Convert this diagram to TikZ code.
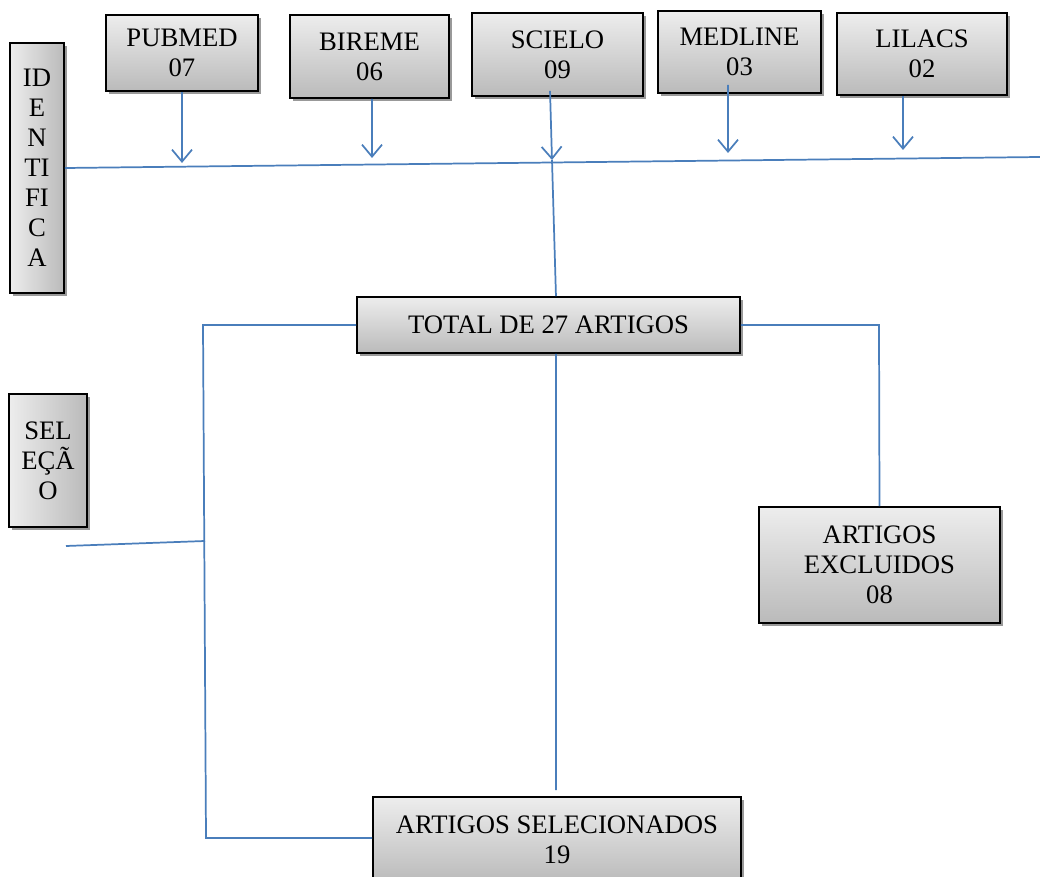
\documentclass[tikz,border=0pt]{standalone}
\usepackage{fontspec}
\setmainfont{Liberation Serif}
\usepackage{tikz}
\usetikzlibrary{arrows.meta,shadows}

\definecolor{linkblue}{RGB}{74,126,187}
\tikzset{
  boxbase/.style={draw=black,line width=1.4pt,
    drop shadow={shadow xshift=2.4pt,shadow yshift=-2.4pt,fill=black!40,opacity=1},
    align=center,inner sep=0pt,text depth=-6pt,
    font=\fontsize{20}{22.5}\selectfont},
  box/.style={boxbase,top color=black!7,bottom color=black!27},
  vbox/.style={boxbase,left color=black!7,right color=black!27},
  link/.style={draw=linkblue,line width=1.3pt},
  arr/.style={link,-{Straight Barb[length=9pt,width=15pt,line width=1.3pt]}}
}

\begin{document}
\begin{tikzpicture}[x=0.75pt,y=0.75pt,yscale=-1]
\useasboundingbox (0,0) rectangle (1040,877);

% Source boxes
\node[box,minimum width=114pt,minimum height=57pt] (pubmed) at (182,53) {PUBMED\\07};
\node[box,minimum width=119.25pt,minimum height=62.25pt] (bireme) at (369.5,56.5) {BIREME\\06};
\node[box,minimum width=128.25pt,minimum height=62.25pt] (scielo) at (557.5,54.5) {SCIELO\\09};
\node[box,minimum width=122.25pt,minimum height=61.5pt] (medline) at (739.5,52) {MEDLINE\\03};
\node[box,minimum width=127.5pt,minimum height=61.5pt] (lilacs) at (922,54) {LILACS\\02};

% Stage boxes
\node[vbox,minimum width=40.5pt,minimum height=187.5pt] (ident) at (37,168) {ID\\E\\N\\TI\\FI\\C\\A};
\node[vbox,minimum width=58.5pt,minimum height=99.75pt] (selecao) at (48,460.5) {SEL\\EÇÃ\\O};

% Result boxes
\node[box,minimum width=287.25pt,minimum height=42pt] (total) at (548.5,325) {TOTAL DE 27 ARTIGOS};
\node[box,minimum width=180.75pt,minimum height=87pt] (excl) at (879.5,565) {ARTIGOS\\EXCLUIDOS\\08};
\node[box,minimum width=276pt,minimum height=64.5pt] (selec) at (557,840) {ARTIGOS SELECIONADOS\\19};

% Coordinates
\coordinate (hr) at (1040,157);
\coordinate (tpub) at (182,163);
\coordinate (tbir) at (372,158);
\coordinate (tsci) at (552,160);
\coordinate (tmed) at (728,153);
\coordinate (tlil) at (903,150);
\coordinate (lt) at (203,325);
\coordinate (lb) at (206,838);
\coordinate (rt) at (879,325);
\coordinate (bm) at (556,790);
\coordinate (sl) at (66,546);
\coordinate (sm) at (205,541);

% Identification line
\draw[link] (ident.east) -- (hr);
\draw[arr] (pubmed.south) -- (tpub);
\draw[arr] ([xshift=1.9pt]bireme.south) -- (tbir);
\draw[arr] ([xshift=-5.6pt,yshift=-4.5pt]scielo.south) -- (tsci);
\draw[arr] ([xshift=-8.6pt,yshift=-6.75pt]medline.south) -- (tmed);
\draw[arr] ([xshift=-14.25pt]lilacs.south) -- (tlil);
\draw[link] (tsci) -- ([xshift=5.6pt]total.north);

% Selection lines
\draw[link] (total.west) -- (lt) -- (lb) -- (lb -| selec.west);
\draw[link] (total.east) -- (rt) -- (excl.north);
\draw[link] ([xshift=5.6pt]total.south) -- (bm);
\draw[link] (sl) -- (sm);

\end{tikzpicture}
\end{document}
